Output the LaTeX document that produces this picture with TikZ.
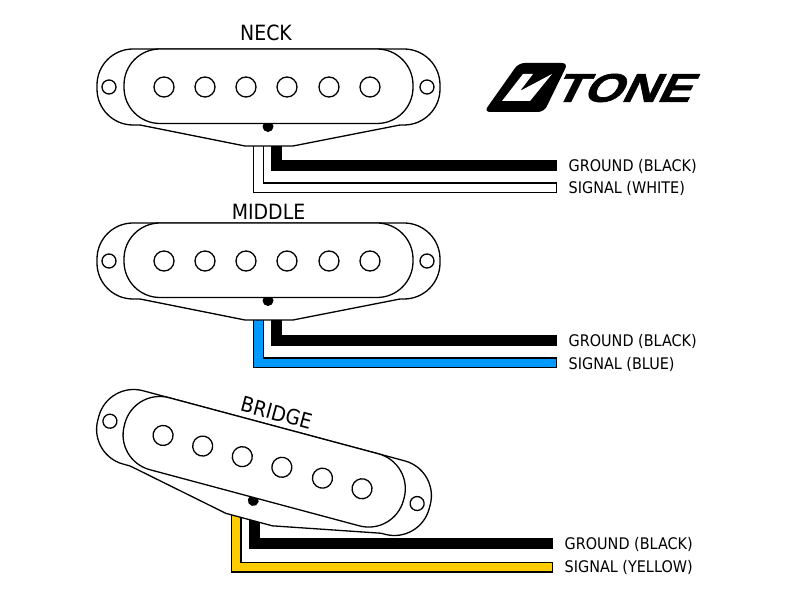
\documentclass[tikz,border=0pt]{standalone}
\usepackage{fontspec}
\setmainfont{DejaVu Sans}[FakeStretch=0.9]
\newfontfamily\logofont{Liberation Sans}[FakeSlant=0.5,FakeStretch=1.24,FakeBold=1.5]
\definecolor{wireblue}{HTML}{0099FF}
\definecolor{wireyellow}{HTML}{FFCC00}
\tikzset{
  partline/.style={draw=black, line width=1.3pt, fill=white},
  wireedge/.style={line width=11pt, black, line join=miter},
  wirecore/.style={line width=8.4pt, line join=miter},
  wiretext/.style={anchor=west, inner sep=0pt, font=\fontsize{16}{19}\selectfont},
  pickuptext/.style={inner sep=0pt, font=\fontsize{21}{25}\selectfont}
}
% one pickup, centred on the scope origin
\newcommand{\pickupbody}{
  \draw[partline, rounded corners=36pt] (-171.5pt,-38pt) rectangle (171.5pt,38pt);
  \fill[white] (-128.5pt,-36pt) -- (-128.5pt,-38pt) -- (-23.5pt,-59pt) -- (24.5pt,-59pt) -- (131.5pt,-38pt) -- (131.5pt,-36pt) -- cycle;
  \draw[black, line width=1.3pt] (-128.5pt,-38pt) -- (-23.5pt,-59pt) -- (24.5pt,-59pt) -- (131.5pt,-38pt);
  \fill[black] (-0.5pt,-39.5pt) circle (5.5pt);
  \draw[partline, rounded corners=36pt] (-144.5pt,-36.5pt) rectangle (144.5pt,38pt);
  \draw[partline] (-159.5pt,0pt) circle (7pt);
  \draw[partline] (158.5pt,0pt) circle (7pt);
  \foreach \px in {-104.5,-63.5,-22.5,18.5,60.5,101.5}
    \draw[partline] (\px pt,0pt) circle (10pt);
}
\begin{document}
\begin{tikzpicture}
  \useasboundingbox (0pt,0pt) rectangle (800pt,600pt);
  \fill[white] (0pt,0pt) rectangle (800pt,600pt);

  % === NECK ===
  \coordinate (neckground) at (557pt,434.5pt);
  \coordinate (necksignal) at (557pt,412pt);
  \draw[wireedge] (258.5pt,460pt) |- (necksignal);
  \draw[wirecore, white] (258.5pt,460pt) |- ([xshift=-1.3pt]necksignal);
  \draw[wireedge] (276.5pt,460pt) |- (neckground);
  \begin{scope}[shift={(268.5pt,513pt)}]
    \pickupbody
  \end{scope}
  \node[pickuptext] (necklabel) at (266pt,567pt) {NECK};
  \node[wiretext] (neckgroundlabel) at (568.5pt,434pt) {GROUND (BLACK)};
  \node[wiretext] (necksignallabel) at (568.5pt,412pt) {SIGNAL (WHITE)};

  % === MIDDLE ===
  \coordinate (middleground) at (557pt,259.5pt);
  \coordinate (middlesignal) at (557pt,237pt);
  \draw[wireedge] (258.5pt,285pt) |- (middlesignal);
  \draw[wirecore, wireblue] (258.5pt,285pt) |- ([xshift=-1.3pt]middlesignal);
  \draw[wireedge] (276.5pt,285pt) |- (middleground);
  \begin{scope}[shift={(268.5pt,339pt)}]
    \pickupbody
  \end{scope}
  \node[pickuptext] (middlelabel) at (268.5pt,388pt) {MIDDLE};
  \node[wiretext] (middlegroundlabel) at (568.5pt,259pt) {GROUND (BLACK)};
  \node[wiretext] (middlesignallabel) at (568.5pt,236pt) {SIGNAL (BLUE)};

  % === BRIDGE ===
  \coordinate (bridgeground) at (553pt,56.5pt);
  \coordinate (bridgesignal) at (553pt,33pt);
  \draw[wireedge] (236pt,95pt) |- (bridgesignal);
  \draw[wirecore, wireyellow] (236pt,95pt) |- ([xshift=-1.3pt]bridgesignal);
  \draw[wireedge] (254.5pt,95pt) |- (bridgeground);
  \begin{scope}[shift={(264pt,137.5pt)}, rotate=-15]
    \pickupbody
  \end{scope}
  \node[pickuptext, rotate=-15] (bridgelabel) at (276.5pt,187pt) {BRIDGE};
  \node[wiretext] (bridgegroundlabel) at (564.5pt,56pt) {GROUND (BLACK)};
  \node[wiretext] (bridgesignallabel) at (564.5pt,33pt) {SIGNAL (YELLOW)};

  % === LOGO ===
  \fill[black, rounded corners=6pt] (518.6pt,537pt) -- (568pt,537pt) -- (544pt,488pt) -- (484pt,488pt) -- cycle;
  \fill[white] (523pt,526pt) -- (533pt,526pt) -- (520pt,509pt) -- (552pt,526pt) -- (530pt,499pt) -- (502pt,499pt) -- cycle;
  \node[anchor=west, inner sep=0pt, font=\logofont\bfseries\fontsize{40}{40}\selectfont] (logotext) at (552pt,512pt) {TONE};
\end{tikzpicture}
\end{document}
